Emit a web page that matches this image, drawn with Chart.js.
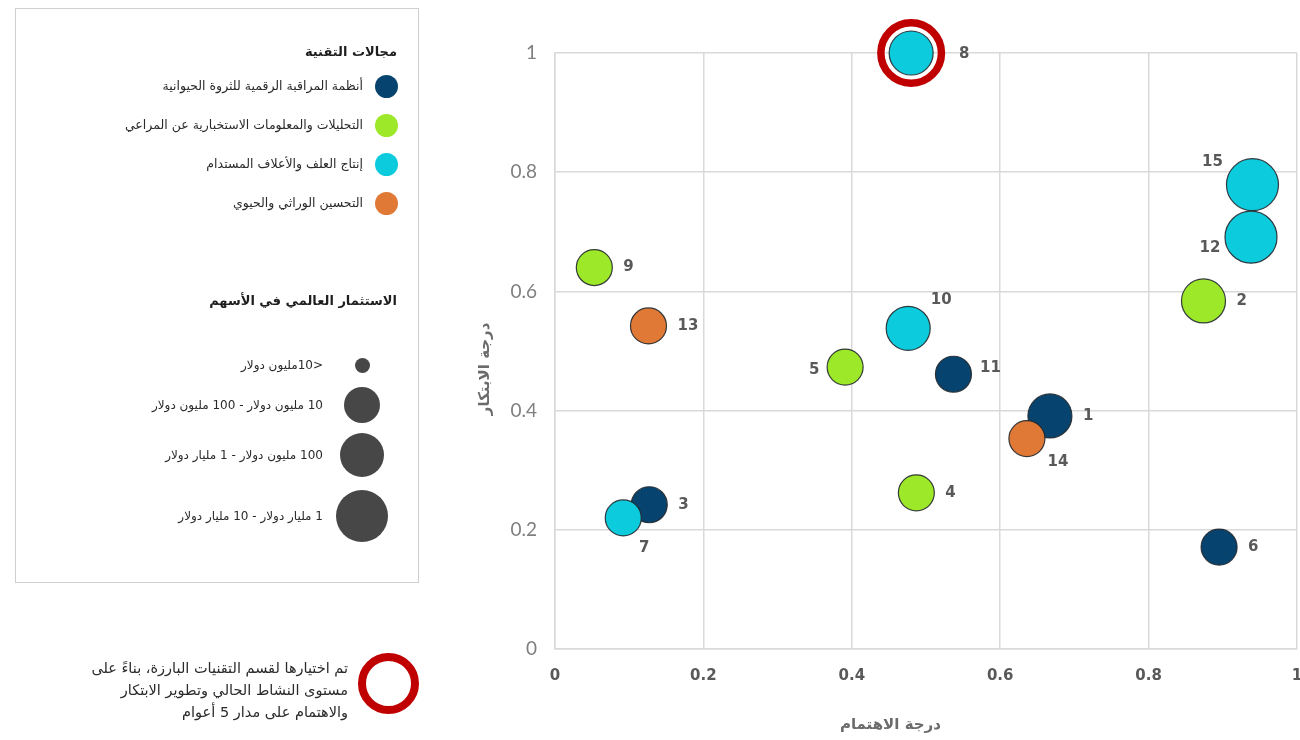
<!DOCTYPE html>
<html lang="ar">
<head>
    <meta charset="utf-8">
    <title>درجة الاهتمام ودرجة الابتكار</title>
    <script src="https://cdn.jsdelivr.net/npm/chart.js"></script>
    <style>
        body { margin: 0; background: #fff; font-family: "DejaVu Sans", sans-serif; }
        .page { position: relative; width: 1300px; height: 740px; overflow: hidden; }
        #chartBox { position: absolute; left: 0; top: 0; width: 1300px; height: 740px; }
        .legend-box { position: absolute; left: 15px; top: 8px; width: 402px; height: 573px; border: 1px solid #cfcfcf; }
        .txt { position: absolute; direction: rtl; white-space: nowrap; line-height: 1; transform: translateY(-50%); color: #2a2a2a; font-size: 12.5px; }
        .txt.head { font-weight: bold; font-size: 13px; color: #1e1e1e; }
        .txt.tier { font-size: 12px; }
        .txt.note { font-size: 14.5px; }
        .dot { position: absolute; border-radius: 50%; }
        .ring { position: absolute; border-radius: 50%; box-sizing: border-box; border: 8px solid #c00000; }
    </style>
</head>
<body>
<div class="page" id="page">
    <div id="chartBox"><canvas id="chart"></canvas></div>
    <div class="legend-box"></div>
</div>

<script>
// التقنيات: رقم التقنية، درجة الاهتمام (س)، درجة الابتكار (ص)
var ids        = [1, 2, 3, 4, 5, 6, 7, 8, 9, 10, 11, 12, 13, 14, 15];
var interest   = [0.667, 0.874, 0.127, 0.487, 0.391, 0.895, 0.092, 0.480, 0.053, 0.476, 0.537, 0.938, 0.126, 0.636, 0.940];
var innovation = [0.391, 0.584, 0.242, 0.262, 0.473, 0.171, 0.220, 1.000, 0.640, 0.538, 0.461, 0.691, 0.542, 0.353, 0.779];
// مجال كل تقنية (فهرس في domains) وفئة الاستثمار (فهرس في investTiers)
var domainOf   = [0, 1, 0, 1, 1, 0, 2, 2, 1, 2, 0, 2, 3, 3, 2];
var investTier = [2, 2, 1, 1, 1, 1, 1, 2, 1, 2, 1, 3, 1, 1, 3];
var highlighted = [8];

var domains = [
    'أنظمة المراقبة الرقمية للثروة الحيوانية',
    'التحليلات والمعلومات الاستخبارية عن المراعي',
    'إنتاج العلف والأعلاف المستدام',
    'التحسين الوراثي والحيوي'
];
var investTiers = [
    '<10مليون دولار',
    '10 مليون دولار - 100 مليون دولار',
    '100 مليون دولار - 1 مليار دولار',
    '1 مليار دولار - 10 مليار دولار'
];
var tickValues = [0, 0.2, 0.4, 0.6, 0.8, 1];

// styling
var domainColors = ['#06446f', '#9ce829', '#0ccbdc', '#e07936'];
var tierRadius = [7.5, 18, 22, 26];

var page = document.getElementById('page');

function addText(text, rightX, cy, cls) {
    var d = document.createElement('div');
    d.className = 'txt' + (cls ? ' ' + cls : '');
    d.textContent = text;
    d.style.right = (1300 - rightX) + 'px';
    d.style.top = cy + 'px';
    page.appendChild(d);
}
function addDot(cx, cy, r, color) {
    var d = document.createElement('div');
    d.className = 'dot';
    d.style.left = (cx - r) + 'px';
    d.style.top = (cy - r) + 'px';
    d.style.width = d.style.height = (2 * r) + 'px';
    d.style.background = color;
    page.appendChild(d);
}

// legend: technology domains
addText('مجالات التقنية', 397, 51, 'head');
var domainRows = [86, 125, 164, 203];
domains.forEach(function (name, i) {
    addDot(386, domainRows[i], 11.5, domainColors[i]);
    addText(name, 363, domainRows[i]);
});

// legend: investment size
addText('الاستثمار العالمي في الأسهم', 397, 300, 'head');
var tierRows = [365, 405, 455, 516];
investTiers.forEach(function (name, i) {
    addDot(362, tierRows[i], tierRadius[i], '#474747');
    addText(name, 323, tierRows[i], 'tier');
});

// note about the highlighted technology
var ring = document.createElement('div');
ring.className = 'ring';
ring.style.left = (388 - 30.5) + 'px';
ring.style.top = (683 - 30.5) + 'px';
ring.style.width = ring.style.height = '61px';
page.appendChild(ring);
addText('تم اختيارها لقسم التقنيات البارزة، بناءً على', 348, 668, 'note');
addText('مستوى النشاط الحالي وتطوير الابتكار', 348, 690, 'note');
addText('والاهتمام على مدار 5 أعوام', 348, 712, 'note');

// one bubble dataset per domain; navy drawn underneath
var datasets = domains.map(function (name, d) {
    var points = [];
    ids.forEach(function (id, i) {
        if (domainOf[i] === d) {
            points.push({ x: interest[i], y: innovation[i], r: tierRadius[investTier[i]], id: id });
        }
    });
    return {
        label: name,
        data: points,
        backgroundColor: domainColors[d],
        borderColor: 'rgba(35, 40, 45, 0.9)',
        borderWidth: 1.2,
        clip: false,
        order: d === 0 ? 10 : 4 - d
    };
});

var labelOffsets = {
    5: [-31, 3], 7: [21, 30], 8: [53, 1], 10: [33, -28],
    11: [37, -6], 12: [-41, 11], 14: [31, 23], 15: [-40, -23]
};

function eachPoint(chart, fn) {
    chart.data.datasets.forEach(function (ds, di) {
        var meta = chart.getDatasetMeta(di);
        meta.data.forEach(function (el, pi) { fn(ds.data[pi], el); });
    });
}

var bubbleExtras = {
    id: 'bubbleExtras',
    afterDatasetsDraw: function (chart) {
        var ctx = chart.ctx;
        ctx.save();
        // red ring around the selected technologies
        eachPoint(chart, function (p, el) {
            if (highlighted.indexOf(p.id) < 0) return;
            ctx.beginPath();
            ctx.arc(el.x, el.y, p.r + 8.3, 0, Math.PI * 2);
            ctx.lineWidth = 7.5;
            ctx.strokeStyle = '#c00000';
            ctx.stroke();
        });
        // technology numbers
        ctx.font = 'bold 15px "DejaVu Sans"';
        ctx.fillStyle = '#595959';
        ctx.textBaseline = 'middle';
        eachPoint(chart, function (p, el) {
            var off = labelOffsets[p.id];
            if (off) {
                ctx.textAlign = 'center';
                ctx.fillText(String(p.id), el.x + off[0], el.y + off[1]);
            } else {
                ctx.textAlign = 'left';
                ctx.fillText(String(p.id), el.x + p.r + 11, el.y);
            }
        });
        ctx.restore();
    },
    afterDraw: function (chart) {
        var ctx = chart.ctx, a = chart.chartArea;
        ctx.save();
        ctx.font = 'bold 15px "DejaVu Sans"';
        ctx.fillStyle = '#6b6b6b';
        ctx.textAlign = 'center';
        ctx.textBaseline = 'middle';
        ctx.direction = 'rtl';
        ctx.fillText('درجة الاهتمام', a.left + (a.right - a.left) * 0.452, a.bottom + 76);
        ctx.translate(a.left - 70, a.top + (a.bottom - a.top) * 0.53);
        ctx.rotate(-Math.PI / 2);
        ctx.fillText('درجة الابتكار', 0, 0);
        ctx.restore();
    }
};

function setTicks(scale) {
    scale.ticks = tickValues.map(function (v) { return { value: v }; });
}

new Chart(document.getElementById('chart'), {
    type: 'bubble',
    data: { datasets: datasets },
    options: {
        responsive: true,
        maintainAspectRatio: false,
        animation: false,
        events: [],
        layout: { autoPadding: false, padding: { left: 495, top: 53, right: 3, bottom: 0 } },
        plugins: { legend: { display: false }, tooltip: { enabled: false } },
        scales: {
            x: {
                type: 'linear',
                min: 0, max: 1,
                afterBuildTicks: setTicks,
                // let the last label "1" run to the page edge
                afterFit: function (s) { s.height = 91; s.paddingRight = 0; s.paddingLeft = 0; },
                grid: { color: '#d9d9d9', lineWidth: 1.5, drawTicks: false },
                border: { color: '#d9d9d9', width: 1.5 },
                ticks: {
                    padding: 18,
                    color: '#595959',
                    font: { family: 'DejaVu Sans', size: 15, weight: 'bold' },
                    callback: function (v) { return String(v); }
                }
            },
            y: {
                type: 'linear',
                min: 0, max: 1,
                afterBuildTicks: setTicks,
                afterFit: function (s) { s.width = 60; },
                grid: { color: '#d9d9d9', lineWidth: 1.5, drawTicks: false },
                border: { color: '#d9d9d9', width: 1.5 },
                ticks: {
                    padding: 18,
                    color: '#7f7f7f',
                    font: { family: 'Lato', size: 19 },
                    callback: function (v) { return String(v); }
                }
            }
        }
    },
    plugins: [bubbleExtras]
});
</script>
</body>
</html>
